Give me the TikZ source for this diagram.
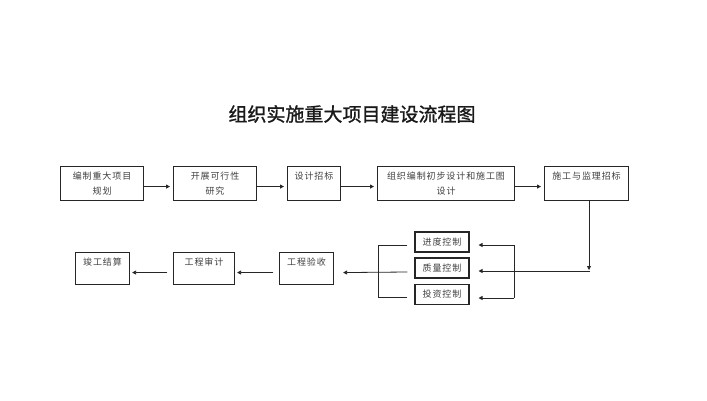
\documentclass[tikz,border=0pt]{standalone}
\usepackage{fontspec}
\setmainfont{Noto Sans CJK SC}
\newfontfamily\cjk[LetterSpace=10]{Noto Sans CJK SC}
\newfontfamily\cjktitle[FakeBold=1.2]{Noto Sans CJK SC}
\usetikzlibrary{arrows.meta}
\begin{document}
\begin{tikzpicture}[x=1pt,y=-1pt,
  box/.style={draw=black!85, line width=1.1pt, rectangle, inner sep=0pt, anchor=north west},
  txt/.style={font=\cjk\fontsize{9}{15}\selectfont, align=center, anchor=north, inner sep=0pt, text=black!75},
  ctl/.style={draw=black!85, line width=1.1pt, rectangle, inner sep=0pt, minimum width=54pt, minimum height=20pt, font=\cjk\fontsize{9}{15}\selectfont, text=black!75},
  ln/.style={line width=0.8pt, draw=black!85},
  arr/.style={ln, -{Triangle[length=4pt,width=4pt]}}]
\useasboundingbox (0,0) rectangle (707,400);
\fill[white] (0,0) rectangle (707,400);
% title
\node[font=\cjktitle\fontsize{19}{19}\selectfont, text=black!90] (title) at (352,114) {组织实施重大项目建设流程图};
% top row
\node[box, minimum width=83pt, minimum height=34pt] (b1) at (60,166) {};
\node[box, minimum width=83pt, minimum height=34pt] (b2) at (173,166) {};
\node[box, minimum width=53pt, minimum height=34pt] (b3) at (287,166) {};
\node[box, minimum width=137pt, minimum height=34pt] (b4) at (377,166) {};
\node[box, minimum width=84pt, minimum height=34pt] (b5) at (544,166) {};
\node[txt] (t1) at ([yshift=-5.5pt]b1.north) {编制重大项目\\规划};
\node[txt] (t2) at ([yshift=-5.5pt]b2.north) {开展可行性\\研究};
\node[txt] (t3) at ([yshift=-5.5pt]b3.north) {设计招标};
\node[txt] (t4) at ([yshift=-5.5pt]b4.north) {组织编制初步设计和施工图\\设计};
\node[txt] (t5) at ([yshift=-5.5pt]b5.north) {施工与监理招标};
% control boxes
\node[ctl] (c1) at (442,242) {进度控制};
\node[ctl] (c2) at (442,268) {质量控制};
\node[ctl] (c3) at (442,294.5) {投资控制};
% bottom row
\node[box, minimum width=54pt, minimum height=32pt] (e1) at (279,252) {};
\node[box, minimum width=61pt, minimum height=32pt] (e2) at (173,252) {};
\node[box, minimum width=54pt, minimum height=32pt] (e3) at (75,252) {};
\node[txt] (s1) at ([yshift=-5.5pt]e1.north) {工程验收};
\node[txt] (s2) at ([yshift=-5.5pt]e2.north) {工程审计};
\node[txt] (s3) at ([yshift=-5.5pt]e3.north) {竣工结算};
% top row arrows
\draw[arr, shorten >=3pt] ([yshift=-3pt]b1.east) -- ([yshift=-3pt]b2.west);
\draw[arr, shorten >=3pt] ([yshift=-3pt]b2.east) -- ([yshift=-3pt]b3.west);
\draw[arr, shorten >=3pt] ([yshift=-3pt]b3.east) -- ([yshift=-3pt]b4.west);
\draw[arr, shorten >=3pt] ([yshift=-3pt]b4.east) -- ([yshift=-3pt]b5.west);
% down from b5
\coordinate (j) at (589,271);
\coordinate (jr) at (590,271);
\draw[arr, shorten >=1pt] (j |- b5.south) -- (j);
\draw[arr] (jr) -- ([xshift=9pt,yshift=-3pt]c2.east);
% right bracket
\coordinate (rb1) at (514,245);
\coordinate (rb3) at (514,298);
\draw[ln] (rb1) -- (rb3);
\draw[arr] (rb1) -- ([xshift=9pt,yshift=-3pt]c1.east);
\draw[arr] (rb3) -- ([xshift=9pt,yshift=-3.5pt]c3.east);
% left bracket
\coordinate (lb1) at (378,245);
\coordinate (lb3) at (378,297);
\draw[ln] ([xshift=-7pt,yshift=-3pt]c1.west) -- (lb1) -- (lb3) -- ([xshift=-7pt,yshift=-2.5pt]c3.west);
\draw[arr] ([xshift=-7pt,yshift=-4pt]c2.west) -- ([xshift=9pt,yshift=-4pt]e1.east);
% bottom arrows
\draw[arr, shorten <=6pt, shorten >=2pt] ([yshift=-4pt]e1.west) -- ([yshift=-4pt]e2.east);
\draw[arr, shorten <=6pt, shorten >=2pt] ([yshift=-4pt]e2.west) -- ([yshift=-4pt]e3.east);
\end{tikzpicture}
\end{document}
